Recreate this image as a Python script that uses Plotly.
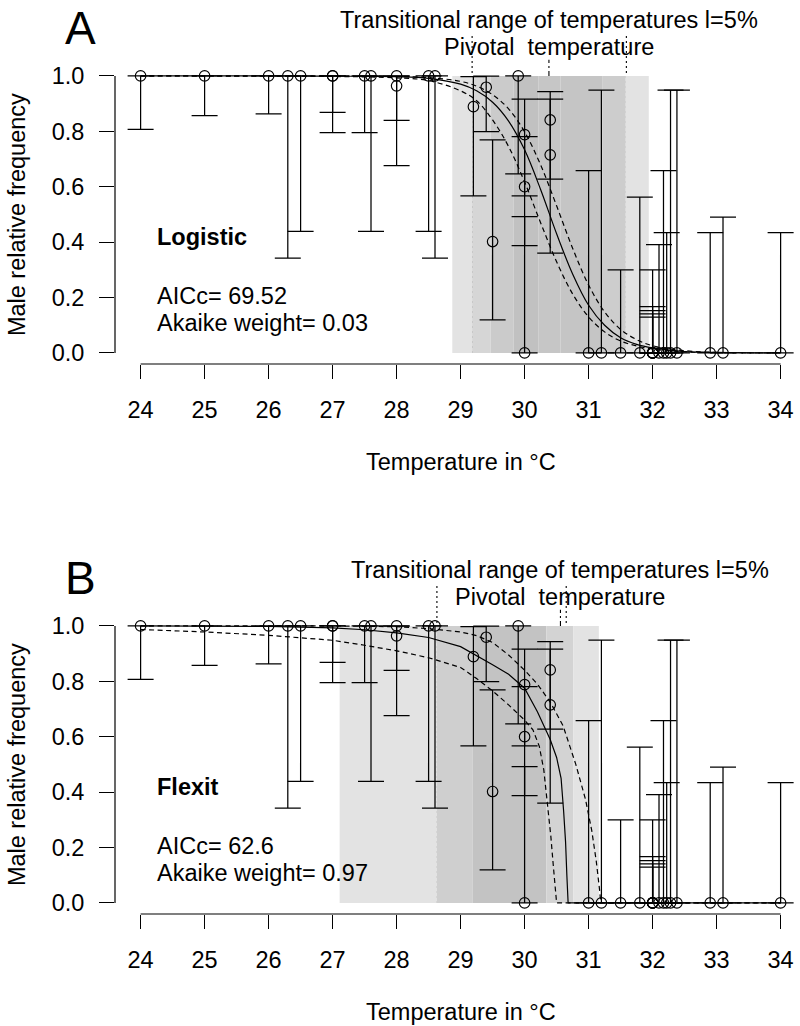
import plotly.graph_objects as go

FONT = "Liberation Sans, Arial, Helvetica, sans-serif"
FS = 23.5

# ---------------- observed data (shared by both panels) ----------------
temps = [24.0, 25.0, 26.0, 26.3, 26.5, 27.0, 27.0, 27.5, 27.6, 28.0, 28.0, 28.5, 28.6,
         29.2, 29.4, 29.5, 29.9, 30.0, 30.0, 30.0, 30.4, 30.4,
         31.0, 31.2, 31.5, 31.8, 32.0, 32.0, 32.0, 32.0, 32.0, 32.1, 32.17, 32.22,
         32.28, 32.38, 32.9, 33.1, 34.0]
male_freq = [1, 1, 1, 1, 1, 1, 1, 1, 1, 1, 0.964, 1, 1,
             0.889, 0.959, 0.402, 1, 0.788, 0.600, 0.0, 0.841, 0.715,
             0, 0, 0, 0, 0, 0, 0, 0, 0, 0, 0, 0, 0, 0, 0, 0, 0]
ci_low = [0.807, 0.857, 0.863, 0.342, 0.439, 0.868, 0.795, 0.795, 0.439, 0.839, 0.676, 0.439, 0.342,
          0.567, 0.799, 0.119, 0.646, 0.567, 0.387, 0.0, 0.627, 0.360,
          0, 0, 0, 0, 0, 0, 0, 0, 0, 0, 0, 0, 0, 0, 0, 0, 0]
ci_high = [1, 1, 1, 1, 1, 1, 1, 1, 1, 1, 0.999, 1, 1,
           0.997, 0.999, 0.769, 1, 0.916, 0.781, 0.492, 0.943, 0.916,
           0.658, 0.949, 0.30, 0.562, 0.30, 0.167, 0.153, 0.141, 0.129, 0.391, 0.658, 0.434,
           0.949, 0.949, 0.434, 0.49, 0.434]

# ---------------- Panel A : logistic model ----------------
logis_T = [24, 26, 27, 28, 28.5, 29, 29.25, 29.5, 29.75, 30, 30.25, 30.5, 30.75, 31, 31.25,
           31.5, 31.75, 32, 32.5, 33, 34]
logis_fit = [1.0, 1.0, 0.999, 0.997, 0.991, 0.97, 0.946, 0.905, 0.837, 0.733, 0.59, 0.43, 0.285,
             0.172, 0.10, 0.055, 0.031, 0.018, 0.005, 0.002, 0.0]
logis_lo = [1.0, 0.999, 0.998, 0.993, 0.983, 0.946, 0.91, 0.841, 0.745, 0.617, 0.47, 0.329, 0.213,
            0.13, 0.076, 0.043, 0.025, 0.014, 0.004, 0.001, 0.0]
logis_hi = [1.0, 1.0, 1.0, 0.998, 0.994, 0.98, 0.963, 0.932, 0.881, 0.798, 0.679, 0.531, 0.378,
            0.245, 0.148, 0.085, 0.048, 0.026, 0.008, 0.002, 0.0]
A_pivotal = 30.38
A_trt = [29.18, 31.59]
A_band_start = [28.87, 29.18, 29.47, 29.83, 30.22, 30.56, 31.22, 31.58]
A_band_end = [29.18, 29.47, 29.83, 30.22, 30.56, 31.22, 31.58, 31.94]
A_band_gray = ['#e3e3e3', '#d6d6d6', '#cbcbcb', '#c1c1c1', '#c6c6c6', '#c5c5c5', '#cdcdcd', '#e3e3e3']

# ---------------- Panel B : flexit model ----------------
flex_T = [24, 25, 26, 27, 27.5, 28, 28.5, 29, 29.25, 29.5, 29.75, 30, 30.2, 30.4, 30.5, 30.57,
          30.61, 30.64, 30.66, 30.675, 30.68, 34]
flex_fit = [1.0, 1.0, 0.998, 0.993, 0.986, 0.975, 0.958, 0.925, 0.893, 0.86, 0.825, 0.775, 0.69,
            0.59, 0.525, 0.45, 0.33, 0.22, 0.10, 0.03, 0.0, 0.0]
flex_lo_T = [24, 25, 26, 27, 27.5, 28, 28.5, 29, 29.25, 29.5, 29.75, 30, 30.13, 30.23, 30.3,
             30.36, 30.41, 30.45, 30.48, 30.5, 34]
flex_lo = [0.987, 0.978, 0.966, 0.948, 0.93, 0.91, 0.885, 0.85, 0.81, 0.765, 0.715, 0.66, 0.625,
           0.565, 0.48, 0.36, 0.24, 0.13, 0.05, 0.0, 0.0]
flex_hi_T = [24, 27, 28, 28.5, 29, 29.25, 29.5, 29.75, 30, 30.2, 30.4, 30.6, 30.8, 30.95, 31.05,
             31.12, 31.17, 31.19, 34]
flex_hi = [1.0, 1.0, 0.997, 0.99, 0.978, 0.965, 0.94, 0.895, 0.84, 0.79, 0.725, 0.64, 0.50, 0.375,
           0.26, 0.15, 0.05, 0.0, 0.0]
B_pivotal = 30.56
B_trt = [28.63, 30.65]
B_band_start = [27.11, 28.63, 29.19, 30.34, 30.76]
B_band_end = [28.63, 29.19, 30.34, 30.76, 31.16]
B_band_gray = ['#e3e3e3', '#cfcfcf', '#c3c3c3', '#d3d3d3', '#e3e3e3']

x_ticks = list(range(24, 35))
y_ticks = [0.0, 0.2, 0.4, 0.6, 0.8, 1.0]
y_ticklabels = ['0.0', '0.2', '0.4', '0.6', '0.8', '1.0']

# ---------------- layout geometry ----------------
X_RANGE = [23.6, 34.303]
Y_RANGE = [-0.04, 1.04]
DOM_A = [0.64522, 0.93684]
DOM_B = [0.10916, 0.40078]


def paper_x(t):
    return (t - X_RANGE[0]) / (X_RANGE[1] - X_RANGE[0])


def paper_y(f, dom):
    return dom[0] + (f - Y_RANGE[0]) / (Y_RANGE[1] - Y_RANGE[0]) * (dom[1] - dom[0])


fig = go.Figure()
shapes = []
annotations = []


def add_panel(xa, ya, dom, letter, model, aicc, weight, fitT, fit, loT, lo, hiT, hi,
              piv, trt, bstart, bend, bgray, spline):
    xr = xa
    yr = ya
    # shaded bands
    for x0, x1, c in zip(bstart, bend, bgray):
        shapes.append(dict(type='rect', xref=xr, yref=yr, x0=x0, x1=x1, y0=0, y1=1,
                           fillcolor=c, line=dict(width=0), layer='below'))
    # transitional range limits (dotted) and pivotal (dot-dash)
    for t in trt:
        shapes.append(dict(type='line', xref=xr, yref='paper', x0=t, x1=t,
                           y0=paper_y(0, dom), y1=paper_y(1.148, dom),
                           line=dict(color='black', width=1.1, dash='2px,3px'), layer='below'))
    shapes.append(dict(type='line', xref=xr, yref='paper', x0=piv, x1=piv,
                       y0=paper_y(0, dom), y1=paper_y(1.058, dom),
                       line=dict(color='black', width=1.1, dash='2px,3px,7px,3px'), layer='below'))
    # R-style detached axis lines
    shapes.append(dict(type='line', xref=xr, yref='paper', x0=x_ticks[0], x1=x_ticks[-1],
                       y0=dom[0], y1=dom[0], line=dict(color='black', width=1.2), layer='above'))
    shapes.append(dict(type='line', xref='paper', yref=yr, x0=0, x1=0, y0=y_ticks[0], y1=y_ticks[-1],
                       line=dict(color='black', width=1.2), layer='above'))

    shape_kind = 'spline' if spline else 'linear'
    for tx, ty, dash in [(loT, lo, '5px,3.5px'), (hiT, hi, '5px,3.5px'), (fitT, fit, 'solid')]:
        fig.add_trace(go.Scatter(x=tx, y=ty, mode='lines', xaxis=xa, yaxis=ya,
                                 line=dict(color='black', width=1.2, dash=dash, shape=shape_kind),
                                 hoverinfo='skip', showlegend=False))
    fig.add_trace(go.Scatter(
        x=temps, y=male_freq, mode='markers', xaxis=xa, yaxis=ya, cliponaxis=False,
        marker=dict(symbol='circle-open', size=10.5, color='black', line=dict(width=1.15, color='black')),
        error_y=dict(type='data', symmetric=False,
                     array=[h - f for h, f in zip(ci_high, male_freq)],
                     arrayminus=[f - l for f, l in zip(male_freq, ci_low)],
                     color='black', thickness=1.25, width=13),
        showlegend=False))

    # texts
    annotations.append(dict(xref=xr, yref=yr, x=24.23, y=0.42, text='<b>' + model + '</b>',
                            showarrow=False, xanchor='left', yanchor='middle',
                            font=dict(size=FS, family=FONT, color='black')))
    annotations.append(dict(xref=xr, yref=yr, x=24.23, y=0.205, text='AICc= ' + aicc,
                            showarrow=False, xanchor='left', yanchor='middle',
                            font=dict(size=FS, family=FONT, color='black')))
    annotations.append(dict(xref=xr, yref=yr, x=24.23, y=0.108, text='Akaike weight= ' + weight,
                            showarrow=False, xanchor='left', yanchor='middle',
                            font=dict(size=FS, family=FONT, color='black')))
    annotations.append(dict(xref='paper', yref='paper', x=paper_x(piv), y=paper_y(1.202, dom),
                            text='Transitional range of temperatures l=5%', showarrow=False,
                            xanchor='center', yanchor='middle',
                            font=dict(size=FS, family=FONT, color='black')))
    annotations.append(dict(xref='paper', yref='paper', x=paper_x(piv), y=paper_y(1.106, dom),
                            text='Pivotal  temperature', showarrow=False,
                            xanchor='center', yanchor='middle',
                            font=dict(size=FS, family=FONT, color='black')))
    annotations.append(dict(xref='paper', yref='paper', x=paper_x(23.06), y=paper_y(1.172, dom),
                            text=letter, showarrow=False, xanchor='center', yanchor='middle',
                            font=dict(size=46, family=FONT, color='black')))
    annotations.append(dict(xref='paper', yref='paper', x=paper_x(29.0), y=paper_y(-0.3935, dom),
                            text='Temperature in °C', showarrow=False, xanchor='center', yanchor='middle',
                            font=dict(size=FS, family=FONT, color='black')))
    annotations.append(dict(xref='paper', yref='paper', x=paper_x(22.08), y=paper_y(0.5, dom),
                            text='Male relative frequency', showarrow=False, textangle=-90,
                            xanchor='center', yanchor='middle',
                            font=dict(size=FS, family=FONT, color='black')))


add_panel('x', 'y', DOM_A, 'A', 'Logistic', '69.52', '0.03', logis_T, logis_fit, logis_T, logis_lo,
          logis_T, logis_hi, A_pivotal, A_trt, A_band_start, A_band_end, A_band_gray, True)
add_panel('x2', 'y2', DOM_B, 'B', 'Flexit', '62.6', '0.97', flex_T, flex_fit, flex_lo_T, flex_lo,
          flex_hi_T, flex_hi, B_pivotal, B_trt, B_band_start, B_band_end, B_band_gray, False)


def xaxis_cfg(anchor):
    return dict(domain=[0, 1], range=X_RANGE, anchor=anchor, tickmode='array', tickvals=x_ticks,
                ticks='outside', ticklen=14, tickwidth=1.2, tickcolor='black', showline=False,
                showgrid=False, zeroline=False, ticklabelstandoff=11,
                tickfont=dict(size=FS, family=FONT, color='black'))


def yaxis_cfg(dom, anchor):
    return dict(domain=dom, range=Y_RANGE, anchor=anchor, tickmode='array', tickvals=y_ticks,
                ticktext=y_ticklabels, ticks='outside', ticklen=15, tickwidth=1.2, tickcolor='black',
                showline=False, showgrid=False, zeroline=False, ticklabelstandoff=10,
                tickfont=dict(size=FS, family=FONT, color='black'))


fig.update_layout(
    width=800, height=1026,
    margin=dict(l=115, r=0, t=0, b=0, autoexpand=False),
    paper_bgcolor='white', plot_bgcolor='white',
    showlegend=False,
    xaxis=xaxis_cfg('y'), yaxis=yaxis_cfg(DOM_A, 'x'),
    xaxis2=xaxis_cfg('y2'), yaxis2=yaxis_cfg(DOM_B, 'x2'),
    shapes=shapes, annotations=annotations,
    font=dict(family=FONT, color='black'),
)

fig.write_html("out.html",
               config={'displayModeBar': False},
               post_script="document.body.style.margin='0px';document.body.style.padding='0px';"
                           "document.body.style.overflow='hidden';")
